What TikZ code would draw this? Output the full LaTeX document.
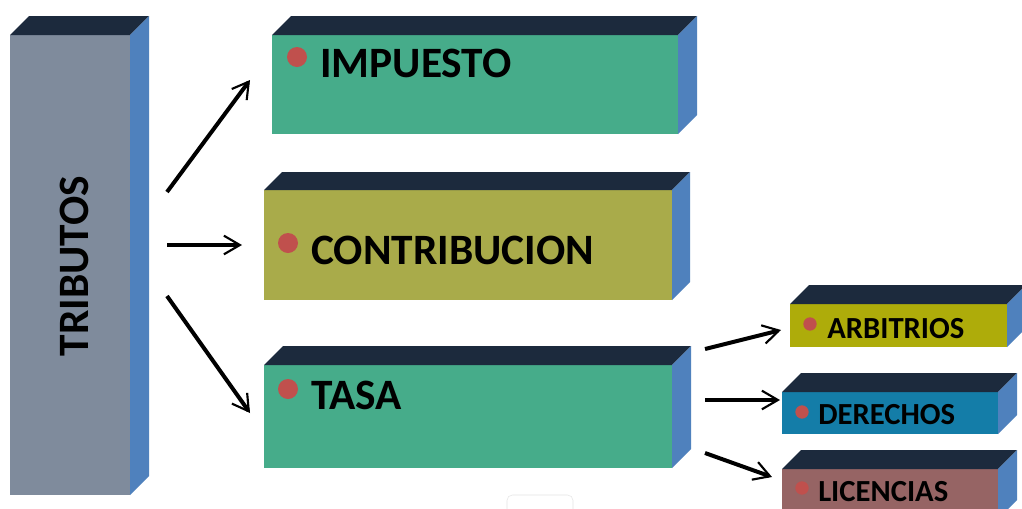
\documentclass[tikz,border=0pt]{standalone}
\usepackage{fontspec}
\setmainfont{Carlito}
\usepackage{tikz}
\usetikzlibrary{arrows.meta, positioning, calc}

\definecolor{techo}{RGB}{28,42,61}
\definecolor{lado}{RGB}{79,129,189}
\definecolor{gris}{RGB}{127,139,156}
\definecolor{verde}{RGB}{70,172,138}
\definecolor{oliva}{RGB}{169,171,74}
\definecolor{amarillo}{RGB}{174,172,10}
\definecolor{azul}{RGB}{20,125,168}
\definecolor{malva}{RGB}{150,100,100}
\definecolor{punto}{RGB}{192,80,77}

% top and side faces of a box
\newcommand{\caras}[2]{%
  \fill[techo] (#1.north west) -- ++(#2,-#2) -- ($(#1.north east)+(#2,-#2)$) -- (#1.north east) -- cycle;
  \fill[lado] (#1.north east) -- ++(#2,-#2) -- ($(#1.south east)+(#2,-#2)$) -- (#1.south east) -- cycle;
}

\begin{document}
\begin{tikzpicture}[x=0.75pt, y=-0.75pt,
    cara/.style={inner sep=0pt, outer sep=0pt, anchor=north west},
    titulo/.style={font=\bfseries\fontsize{32.5}{32.5}\selectfont, inner sep=0pt},
    chico/.style={font=\bfseries\fontsize{23}{23}\selectfont, inner sep=0pt, anchor=base west},
    flecha/.style={line width=3pt, -{Straight Barb[length=12pt,width=14pt,line width=1.6pt]}}]
  \useasboundingbox (0,0) rectangle (1022,508);
  \fill[white] (0,0) rectangle (1022,508);

  % Boxes
  \node[cara, fill=gris, minimum width=90pt, minimum height=345pt] (trib) at (10,35) {};
  \caras{trib}{19}
  \node[cara, fill=verde, minimum width=304.5pt, minimum height=74.25pt] (imp) at (272,35) {};
  \caras{imp}{19}
  \node[cara, fill=oliva, minimum width=306pt, minimum height=82.5pt] (con) at (264,190) {};
  \caras{con}{18}
  \node[cara, fill=verde, minimum width=306pt, minimum height=77.25pt] (tasa) at (264,365) {};
  \caras{tasa}{19}
  \node[cara, fill=amarillo, minimum width=162.75pt, minimum height=32.25pt] (arb) at (790,304) {};
  \caras{arb}{19}
  \node[cara, fill=azul, minimum width=162pt, minimum height=31.5pt] (der) at (782,392) {};
  \caras{der}{19}
  \node[cara, fill=malva, minimum width=162pt, minimum height=37.5pt] (lic) at (782,469) {};
  \caras{lic}{19}

  % Bullets
  \fill[punto] (297,57) circle (7.5pt);
  \fill[punto] (288,243) circle (7.5pt);
  \fill[punto] (288,389) circle (7.5pt);
  \fill[punto] (810,324) circle (5pt);
  \fill[punto] (802,412) circle (5pt);
  \fill[punto] (802,488) circle (5pt);

  % Labels
  \node[titulo, rotate=90] (ttrib) at (74,266) {TRIBUTOS};
  \node[titulo, anchor=base west] (timp) at (320,77) {IMPUESTO};
  \node[titulo, anchor=base west] (tcon) at (311,264) {CONTRIBUCION};
  \node[titulo, anchor=base west] (ttasa) at (311,409) {TASA};
  \node[chico] (tarb) at (827,338) {ARBITRIOS};
  \node[chico] (tder) at (818,424) {DERECHOS};
  \node[chico] (tlic) at (818,501) {LICENCIAS};

  % Arrows
  \coordinate (s1) at (167,192);  \coordinate (e1) at (250,80);
  \coordinate (s2) at (167,245);  \coordinate (e2) at (242,245);
  \coordinate (s3) at (167,296);  \coordinate (e3) at (250,413);
  \coordinate (s4) at (705,349);  \coordinate (e4) at (781,330);
  \coordinate (s5) at (705,400);  \coordinate (e5) at (780,400);
  \coordinate (s6) at (705,453);  \coordinate (e6) at (772,477);
  \draw[flecha] (s1) -- (e1);
  \draw[flecha] (s2) -- (e2);
  \draw[flecha] (s3) -- (e3);
  \draw[flecha] (s4) -- (e4);
  \draw[flecha] (s5) -- (e5);
  \draw[flecha] (s6) -- (e6);

  % faint tab at the bottom
  \draw[black!10, fill=white, rounded corners=4pt] (507,495) rectangle (573,515);
\end{tikzpicture}
\end{document}
